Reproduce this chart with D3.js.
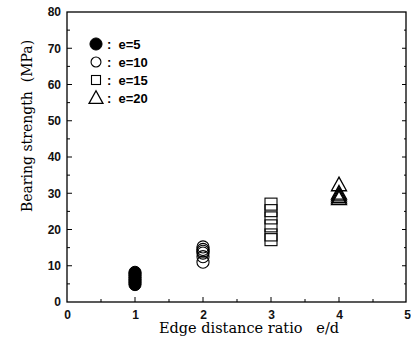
<!DOCTYPE html>
<html><head><meta charset="utf-8">
<script src="https://cdn.jsdelivr.net/npm/d3@7"></script>
<style>body{margin:0;background:#fff}svg{display:block}</style>
</head><body>
<script>
const xTicks = [0,1,2,3,4,5];
const yTicks = [0,10,20,30,40,50,60,70,80];
const legendLabels = ["e=5","e=10","e=15","e=20"];
const seriesShapes = ["filledCircle","circle","square","triangle"];
const ratioE5 = 1,  valuesE5  = [4.8,5.3,5.8,6.3,6.8,7.3,7.8,8.2];
const ratioE10 = 2, valuesE10 = [11,12.5,13.5,14,14.5,15.2];
const ratioE15 = 3, valuesE15 = [17.2,18.5,21,23.2,25.2,27];
const ratioE20 = 4, valuesE20 = [28.5,29,29.5,30,32.3];

const W=411,H=344, L=67, R=406, T=12, B=302;
const svg=d3.select("body").append("svg").attr("width",W).attr("height",H);
const x=d3.scaleLinear().domain([0,5]).range([L,L+340]);
const y=d3.scaleLinear().domain([0,80]).range([B,T]);

// frame
svg.append("rect").attr("x",L).attr("y",T).attr("width",R-L).attr("height",B-T)
  .attr("fill","none").attr("stroke","#000").attr("stroke-width",1.3);

// axes
const ax=svg.append("g").attr("transform",`translate(0,${B})`)
  .call(d3.axisBottom(x).tickValues(xTicks).tickSize(0).tickPadding(8).tickFormat(d3.format("d")));
ax.select(".domain").remove();
const ay=svg.append("g").attr("transform",`translate(${L},0)`)
  .call(d3.axisLeft(y).tickValues(yTicks).tickSize(0).tickPadding(6).tickFormat(d3.format("d")));
ay.select(".domain").remove();
svg.selectAll(".tick text").attr("font-family","Liberation Sans, Arial, sans-serif")
  .attr("font-size",12).attr("font-weight","bold").attr("fill","#111");

const xminor=d3.range(0.5,5,0.5), yminor=d3.range(5,80,5);
svg.append("g").selectAll("line").data(xminor).join("line")
  .attr("x1",d=>x(d)).attr("x2",d=>x(d)).attr("y1",B).attr("y2",d=>B-(d%1===0?5:3))
  .attr("stroke","#000");
svg.append("g").selectAll("line").data(yminor).join("line")
  .attr("y1",d=>y(d)).attr("y2",d=>y(d)).attr("x1",L).attr("x2",d=>L+(d%10===0?5:3))
  .attr("stroke","#000");
svg.append("g").selectAll("line").data(yminor).join("line")
  .attr("y1",d=>y(d)).attr("y2",d=>y(d)).attr("x1",R).attr("x2",d=>R-(d%10===0?4:2))
  .attr("stroke","#000");

// axis titles
svg.append("text").attr("x",249).attr("y",333).attr("text-anchor","middle")
  .attr("font-family","DejaVu Serif, serif").attr("font-size",14.5)
  .attr("xml:space","preserve").text("Edge distance ratio   e/d");
svg.append("text").attr("transform",`translate(32,126) rotate(-90)`).attr("text-anchor","middle")
  .attr("font-family","DejaVu Serif, serif").attr("font-size",14)
  .attr("xml:space","preserve").text("Bearing strength  (MPa)");

// markers
function drawShape(g,shape,cx,cy,s){
  if(shape==="filledCircle") g.append("circle").attr("cx",cx).attr("cy",cy).attr("r",s*0.55).attr("fill","#000").attr("stroke","#000");
  else if(shape==="circle") g.append("circle").attr("cx",cx).attr("cy",cy).attr("r",s*0.55).attr("fill","none").attr("stroke","#000").attr("stroke-width",1.1);
  else if(shape==="square") g.append("rect").attr("x",cx-s*0.5).attr("y",cy-s*0.5).attr("width",s).attr("height",s).attr("fill","none").attr("stroke","#000").attr("stroke-width",1.1);
  else g.append("path").attr("d",`M${cx},${cy-s*0.6}L${cx+s*0.58},${cy+s*0.45}L${cx-s*0.58},${cy+s*0.45}Z`).attr("fill","none").attr("stroke","#000").attr("stroke-width",1.3);
}
const pts=svg.append("g");
const groups=[[ratioE5,valuesE5],[ratioE10,valuesE10],[ratioE15,valuesE15],[ratioE20,valuesE20]];
groups.forEach(([r,vals],i)=>{
  vals.forEach(v=>drawShape(pts,seriesShapes[i],x(r),y(v),i===2?12:(i===3?13:11)));
});

// legend
const lg=svg.append("g");
legendLabels.forEach((lab,i)=>{
  const yy=44+i*18;
  drawShape(lg,seriesShapes[i],96,yy,i===0?11:(i===3?12:9));
  lg.append("text").attr("x",107).attr("y",yy+5).attr("font-family","Liberation Sans, Arial, sans-serif")
    .attr("font-size",13).attr("font-weight","bold").attr("xml:space","preserve").text(":  "+lab);
});
</script>
</body></html>
